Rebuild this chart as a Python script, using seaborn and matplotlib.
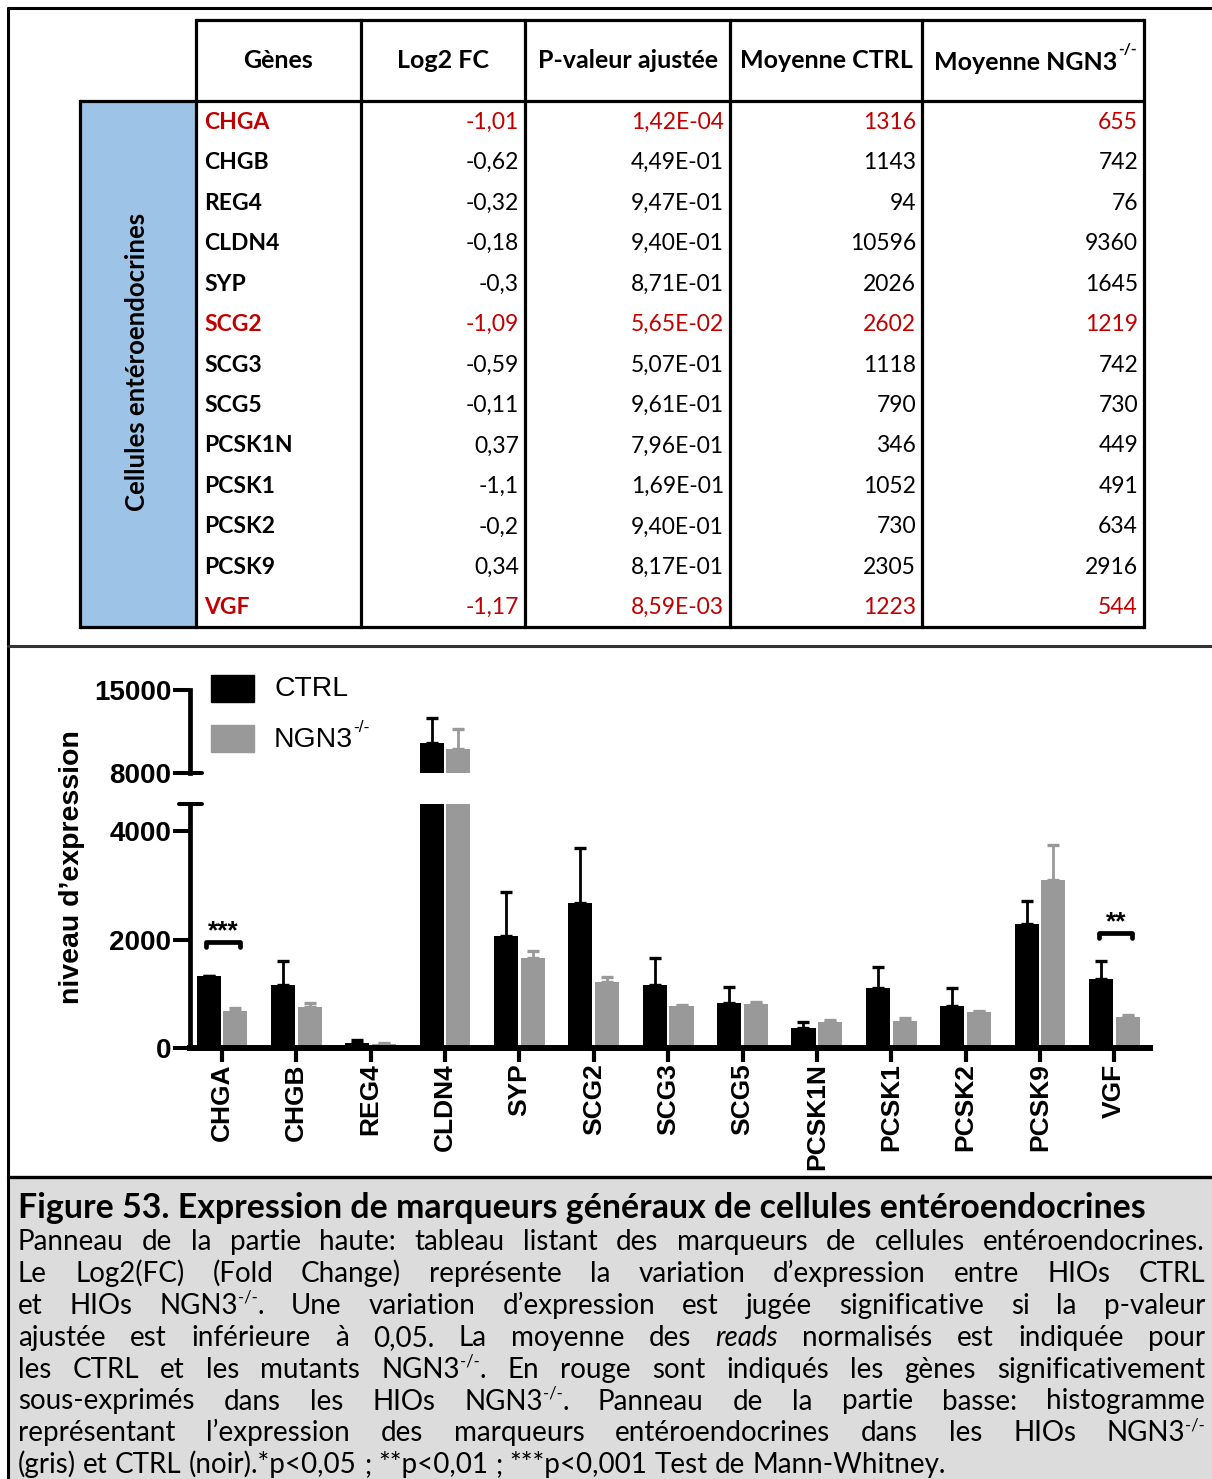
import re
import numpy as np
import pandas as pd
import matplotlib.pyplot as plt
import seaborn as sns
from matplotlib import font_manager
from matplotlib.patches import Rectangle

# ---- top panel: table values ----
table_genes = ['CHGA', 'CHGB', 'REG4', 'CLDN4', 'SYP', 'SCG2', 'SCG3', 'SCG5',
               'PCSK1N', 'PCSK1', 'PCSK2', 'PCSK9', 'VGF']
log2_fc = ['-1,01', '-0,62', '-0,32', '-0,18', '-0,3', '-1,09', '-0,59', '-0,11',
           '0,37', '-1,1', '-0,2', '0,34', '-1,17']
p_adj = ['1,42E-04', '4,49E-01', '9,47E-01', '9,40E-01', '8,71E-01', '5,65E-02',
         '5,07E-01', '9,61E-01', '7,96E-01', '1,69E-01', '9,40E-01', '8,17E-01', '8,59E-03']
mean_ctrl = [1316, 1143, 94, 10596, 2026, 2602, 1118, 790, 346, 1052, 730, 2305, 1223]
mean_ngn3 = [655, 742, 76, 9360, 1645, 1219, 742, 730, 449, 491, 634, 2916, 544]
red_rows = ['CHGA', 'SCG2', 'VGF']
headers = ['Gènes', 'Log2 FC', 'P-valeur ajustée', 'Moyenne CTRL']

# ---- bottom panel: bar chart values ----
bar_genes = table_genes
ctrl_mean = [1320, 1170, 100, 10550, 2070, 2670, 1160, 835, 375, 1100, 775, 2285, 1265]
ctrl_sem = [15, 440, 40, 2100, 800, 1020, 500, 295, 110, 400, 325, 430, 345]
ngn3_mean = [690, 760, 80, 10000, 1660, 1220, 775, 810, 485, 500, 660, 3100, 577]
ngn3_sem = [45, 70, 10, 1730, 135, 95, 15, 30, 35, 60, 15, 640, 35]
sig_genes = ['CHGA', 'VGF']
sig_labels = ['***', '**']
sig_heights = [1960, 2125]

caption_title = 'Figure 53. Expression de marqueurs généraux de cellules entéroendocrines'
caption_lines = [
    'Panneau de la partie haute: tableau listant des marqueurs de cellules entéroendocrines.',
    'Le Log2(FC) (Fold Change) représente la variation d’expression entre HIOs CTRL',
    'et HIOs NGN3^{-/-}. Une variation d’expression est jugée significative si la p-valeur',
    'ajustée est inférieure à 0,05. La moyenne des _reads_ normalisés est indiquée pour',
    'les CTRL et les mutants NGN3^{-/-}. En rouge sont indiqués les gènes significativement',
    'sous-exprimés dans les HIOs NGN3^{-/-}. Panneau de la partie basse: histogramme',
    'représentant l’expression des marqueurs entéroendocrines dans les HIOs NGN3^{-/-}',
    '(gris) et CTRL (noir).*p<0,05 ; **p<0,01 ; ***p<0,001 Test de Mann-Whitney.',
]

sns.set_style('white')
plt.rcParams['font.family'] = ['Liberation Sans', 'DejaVu Sans']
for k in ['text.color', 'axes.edgecolor', 'xtick.color', 'ytick.color', 'axes.labelcolor']:
    plt.rcParams[k] = 'black'

W, H = 1212, 1479
fig = plt.figure(figsize=(W / 100, H / 100), dpi=100)
bg = fig.add_axes([0, 0, 1, 1], zorder=0)
bg.set_xlim(0, W)
bg.set_ylim(H, 0)
bg.axis('off')
renderer = fig.canvas.get_renderer()


def px_axes(x0, y0, x1, y1):
    ax = fig.add_axes([x0 / W, 1 - y1 / H, (x1 - x0) / W, (y1 - y0) / H], zorder=2)
    ax.patch.set_alpha(0)
    return ax


def text_width(t):
    return t.get_window_extent(renderer).width


# frame and panel separators
bg.add_patch(Rectangle((9, 1179), W, H, color='#dcdcdc', zorder=0))
bg.plot([8, 8], [8, H], color='black', lw=2.2)
bg.plot([8, W], [8, 8], color='black', lw=2.2)
bg.plot([8, W], [646, 646], color='#333333', lw=2.2)
bg.plot([8, W], [1177, 1177], color='black', lw=2.4)

# ---- table ----
col_x = [196, 361, 525, 730, 922, 1144]
head_top, head_bot, tab_bot, side_left = 20, 101, 627, 80
row_h = (tab_bot - head_bot) / len(table_genes)
tfont = dict(family='Lato', fontsize=16.5)
hfont = dict(family='Lato', fontsize=18, fontweight='bold')
bg.add_patch(Rectangle((side_left, head_bot), col_x[0] - side_left, tab_bot - head_bot,
                       color='#9dc3e6', zorder=1))
lw_t = 2.3
for xc in col_x:
    bg.plot([xc, xc], [head_top, tab_bot], color='black', lw=lw_t, solid_capstyle='projecting')
bg.plot([side_left, side_left], [head_bot, tab_bot], color='black', lw=lw_t, solid_capstyle='projecting')
bg.plot([col_x[0], col_x[-1]], [head_top, head_top], color='black', lw=lw_t)
bg.plot([side_left, col_x[-1]], [head_bot, head_bot], color='black', lw=lw_t)
bg.plot([side_left, col_x[-1]], [tab_bot, tab_bot], color='black', lw=lw_t)

for i, h in enumerate(headers):
    bg.text((col_x[i] + col_x[i + 1]) / 2, 61, h, ha='center', va='center', **hfont)
bg.text(1117, 62, 'Moyenne NGN3', ha='right', va='center', **hfont)
bg.text(1118, 50, '-/-', ha='left', va='center', fontweight='bold', family='Lato', fontsize=11)

for r, g in enumerate(table_genes):
    yc = head_bot + (r + 0.5) * row_h + 1
    col = '#c00000' if g in red_rows else 'black'
    bg.text(204, yc, g, ha='left', va='center', fontweight='bold', color=col, **tfont)
    vals = [log2_fc[r], p_adj[r], str(mean_ctrl[r]), str(mean_ngn3[r])]
    for c, v in enumerate(vals):
        bg.text(col_x[c + 2] - 6, yc, v, ha='right', va='center', color=col, **tfont)
bg.text(137, 362, 'Cellules entéroendocrines', rotation=90, ha='center', va='center',
        family='Lato', fontsize=18.5, fontweight='bold')

# ---- bar chart with broken axis ----
x = np.arange(len(bar_genes))
df = pd.DataFrame({'gene': bar_genes * 2,
                   'group': ['CTRL'] * len(bar_genes) + ['NGN3'] * len(bar_genes),
                   'expr': ctrl_mean + ngn3_mean})
pal = {'CTRL': 'black', 'NGN3': '#999999'}
ax_top = px_axes(190, 690, 1150, 773)
ax_bot = px_axes(190, 804, 1150, 1048)
for ax in (ax_top, ax_bot):
    sns.barplot(data=df, x='gene', y='expr', hue='group', hue_order=['CTRL', 'NGN3'],
                palette=pal, width=0.72, gap=0.1, errorbar=None, linewidth=0,
                legend=False, ax=ax)
    for off, m, e, c in [(-0.18, ctrl_mean, ctrl_sem, 'black'),
                         (0.18, ngn3_mean, ngn3_sem, '#999999')]:
        ax.errorbar(x + off, m, yerr=[np.zeros(len(m)), e], fmt='none', ecolor=c,
                    elinewidth=2, capsize=4.3, capthick=2.4)
    ax.set_xlim(-0.43, 12.48)
    ax.set_xlabel('')
    ax.set_ylabel('')
    sns.despine(ax=ax)
    ax.spines['left'].set_linewidth(3.4)
    ax.tick_params(axis='y', left=True, length=12.5, width=2.9, pad=1, labelsize=20)

ax_top.set_ylim(8000, 15000)
ax_top.set_yticks([8000, 15000])
ax_top.spines['bottom'].set_visible(False)
ax_top.tick_params(axis='x', bottom=False, labelbottom=False)

ax_bot.set_ylim(0, 4500)
ax_bot.set_yticks([0, 2000, 4000])
ax_bot.set_xticks(x)
ax_bot.set_xticklabels(bar_genes, rotation=90, fontweight='bold', fontsize=19)
ax_bot.spines['bottom'].set_linewidth(4.3)
ax_bot.tick_params(axis='x', bottom=True, length=10, width=3, pad=1)
for ax in (ax_top, ax_bot):
    for lab in ax.get_yticklabels():
        lab.set_fontweight('bold')

# axis break caps
for yb in (773, 804):
    bg.plot([179, 202], [yb, yb], color='black', lw=2.9)

# significance brackets
for g, lab, h in zip(sig_genes, sig_labels, sig_heights):
    i = bar_genes.index(g)
    ax_bot.plot([i - 0.21, i - 0.21, i + 0.24, i + 0.24], [h - 90, h, h, h - 90],
                color='black', lw=3.4, solid_joinstyle='round', solid_capstyle='round')
    ax_bot.text(i + 0.02, h + 60, lab, ha='center', va='baseline', fontsize=19, fontweight='bold')

bg.text(72, 867, 'niveau d’expression', rotation=90, ha='center', va='center',
        fontsize=20.5, fontweight='bold')

# legend
bg.add_patch(Rectangle((211, 675), 43, 27, color='black'))
bg.add_patch(Rectangle((211, 725), 43, 27, color='#999999'))
bg.text(274, 689, 'CTRL', ha='left', va='center', fontsize=20.4)
t = bg.text(274, 740, 'NGN3', ha='left', va='center', fontsize=20.4)
bg.text(274 + text_width(t), 728, '-/-', ha='left', va='center', fontsize=12.5)

# ---- caption ----
names = {f.name for f in font_manager.fontManager.ttflist}
cap_font = 'Liberation Sans Narrow' if 'Liberation Sans Narrow' in names else 'Lato'
cap_left, cap_right = 18, 1205


def parse_words(line):
    words = []
    for w in line.split(' '):
        segs = []
        for tok in re.split(r'(\^\{[^}]*\}|_[^_]+_)', w):
            if not tok:
                continue
            if tok.startswith('^{'):
                segs.append((tok[2:-1], 'sup'))
            elif tok.startswith('_') and tok.endswith('_') and len(tok) > 1:
                segs.append((tok[1:-1], 'it'))
            else:
                segs.append((tok, 'rm'))
        words.append(segs)
    return words


def make_text(xp, yp, txt, style, fs):
    if style == 'sup':
        return bg.text(xp, yp - fs * 0.55, txt, fontsize=fs * 0.6, family=cap_font, va='baseline')
    return bg.text(xp, yp, txt, fontsize=fs, family=cap_font, va='baseline',
                   style='italic' if style == 'it' else 'normal')


def seg_width(txt, style, fs):
    tt = make_text(0, 0, txt, style, fs)
    w = text_width(tt)
    tt.remove()
    return w


def natural_width(line, fs):
    words = parse_words(line)
    space = seg_width('x x', 'rm', fs) - seg_width('xx', 'rm', fs)
    return sum(seg_width(s, st, fs) for w in words for s, st in w) + space * (len(words) - 1)


def layout_line(line, yp, fs, justify):
    words = parse_words(line)
    widths = [sum(seg_width(s, st, fs) for s, st in w) for w in words]
    if justify:
        gap = (cap_right - cap_left - sum(widths)) / (len(words) - 1)
    else:
        gap = seg_width('x x', 'rm', fs) - seg_width('xx', 'rm', fs)
    xpos = cap_left
    for w, wd in zip(words, widths):
        xx = xpos
        for s, st in w:
            make_text(xx, yp, s, st, fs)
            xx += seg_width(s, st, fs)
        xpos += wd + gap


fs_body = 20
widest = max(natural_width(l, fs_body) for l in caption_lines[:-1])
if widest > (cap_right - cap_left):
    fs_body *= (cap_right - cap_left) / widest * 0.995

tt = bg.text(cap_left, 1218, caption_title, family='Lato', fontweight='bold', fontsize=20, va='baseline')
tt.set_fontsize(20 * 1128 / text_width(tt))

for k, line in enumerate(caption_lines):
    layout_line(line, 1250 + k * 31.9, fs_body, justify=k < len(caption_lines) - 1)

fig.savefig('out.png', dpi=100)
